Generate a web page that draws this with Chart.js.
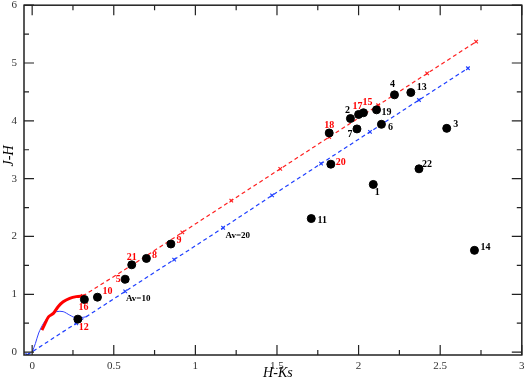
<!DOCTYPE html>
<html>
<head>
<meta charset="utf-8">
<script src="https://cdn.jsdelivr.net/npm/chart.js@4/dist/chart.umd.min.js"></script>
<style>
  html, body { margin: 0; padding: 0; background: #fff; }
  #wrap { width: 527px; height: 383px; position: relative; }
</style>
</head>
<body>
<div id="wrap"><canvas id="ccd"></canvas></div>
<script>
// axis ticks
const xTicks = [0, 0.5, 1, 1.5, 2, 2.5, 3];
const xMinor = [0.25, 0.75, 1.25, 1.75, 2.25, 2.75];
const yTicks = [0, 1, 2, 3, 4, 5, 6];
const yMinor = [0.5, 1.5, 2.5, 3.5, 4.5, 5.5];

// sources (H-Ks, J-H)
const starIds = ["1","2","3","4","5","6","7","8","9","10","11","12","13","14","15","16","17","18","19","20","21","22"];
const starHK  = [2.09, 1.95, 2.54, 2.22, 0.57, 2.14, 1.99, 0.70, 0.85, 0.40, 1.71, 0.28, 2.32, 2.71, 2.03, 0.32, 2.00, 1.82, 2.11, 1.83, 0.61, 2.37];
const starJH  = [2.90, 4.04, 3.87, 4.45, 1.26, 3.94, 3.86, 1.62, 1.87, 0.95, 2.31, 0.57, 4.49, 1.76, 4.14, 0.91, 4.11, 3.79, 4.19, 3.25, 1.51, 3.17];
const redIds  = ["5","8","9","10","12","15","16","17","18","20","21"];

// reddening vectors, marks every Av=5
const redVecHK  = [0.31, 0.62, 0.92, 1.22, 1.52, 1.82, 2.12, 2.42, 2.72];
const redVecJH  = [0.97, 1.52, 2.07, 2.62, 3.17, 3.72, 4.27, 4.82, 5.37];
const blueVecHK = [-0.03, 0.27, 0.57, 0.87, 1.17, 1.47, 1.77, 2.07, 2.37, 2.67];
const blueVecJH = [-0.05, 0.50, 1.05, 1.60, 2.15, 2.71, 3.26, 3.81, 4.36, 4.91];

// intrinsic loci
const giantHK = [0.06, 0.08, 0.10, 0.13, 0.16, 0.19, 0.23, 0.27, 0.31];
const giantJH = [0.38, 0.50, 0.61, 0.67, 0.79, 0.87, 0.93, 0.96, 0.97];
const dwarfHK = [0.00, 0.02, 0.04, 0.07, 0.11, 0.15, 0.19, 0.23, 0.27, 0.33];
const dwarfJH = [0.00, 0.15, 0.33, 0.50, 0.64, 0.70, 0.70, 0.64, 0.59, 0.61];

// Av annotations
const avText = ["Av=10", "Av=20"];
const avHK   = [0.65, 1.26];
const avJH   = [0.93, 2.02];

// label offsets (px) beside each source
const labelOff = {
  "1": [4, 8], "2": [-3, -8], "3": [9, -4], "4": [-2, -10], "5": [-7, 0],
  "6": [9, 3], "7": [-7, 5], "8": [8, -3], "9": [8, -4], "10": [10, -6],
  "11": [11, 2], "12": [6, 8], "13": [11, -5], "14": [11, -3], "15": [4, -10],
  "16": [-1, 8], "17": [-1, -8], "18": [0, -8], "19": [10, 3], "20": [10, -2],
  "21": [0, -7], "22": [8, -4]
};

const zip = (xs, ys) => xs.map((x, i) => ({ x, y: ys[i] }));
const serif = "'Liberation Serif', 'DejaVu Serif', serif";

const framePlugin = {
  id: "frame",
  afterDraw(chart) {
    const { ctx, chartArea: a, scales: { x, y } } = chart;
    ctx.save();
    ctx.strokeStyle = "#222";
    ctx.lineWidth = 1.5;
    ctx.strokeRect(a.left, a.top, a.right - a.left, a.bottom - a.top);
    ctx.lineWidth = 1.2;
    ctx.beginPath();
    const xt = (v, len) => {
      const p = x.getPixelForValue(v);
      ctx.moveTo(p, a.bottom); ctx.lineTo(p, a.bottom - len);
      ctx.moveTo(p, a.top); ctx.lineTo(p, a.top + len);
    };
    const yt = (v, len) => {
      const p = y.getPixelForValue(v);
      ctx.moveTo(a.left, p); ctx.lineTo(a.left + len, p);
      ctx.moveTo(a.right, p); ctx.lineTo(a.right - len, p);
    };
    xTicks.forEach(v => xt(v, 10));
    xMinor.forEach(v => xt(v, 5));
    yTicks.forEach(v => yt(v, 10));
    yMinor.forEach(v => yt(v, 5));
    ctx.stroke();

    // axis titles
    ctx.fillStyle = "#000";
    ctx.font = "italic 14px " + serif;
    ctx.textAlign = "center";
    ctx.textBaseline = "middle";
    ctx.fillText("H-Ks", (a.left + a.right) / 2 + 5, 373);
    ctx.translate(9, 156);
    ctx.rotate(-Math.PI / 2);
    ctx.fillText("J-H", 0, 0);
    ctx.restore();
  }
};

const labelPlugin = {
  id: "starLabels",
  afterDatasetsDraw(chart) {
    const { ctx, scales: { x, y } } = chart;
    ctx.save();
    ctx.textAlign = "center";
    ctx.textBaseline = "middle";
    ctx.font = "bold 10px " + serif;
    starIds.forEach((id, i) => {
      const o = labelOff[id] || [8, 0];
      ctx.fillStyle = redIds.includes(id) ? "#ff0000" : "#000";
      ctx.fillText(id, x.getPixelForValue(starHK[i]) + o[0], y.getPixelForValue(starJH[i]) + o[1]);
    });
    ctx.fillStyle = "#000";
    ctx.font = "bold 9px " + serif;
    avText.forEach((t, i) => ctx.fillText(t, x.getPixelForValue(avHK[i]), y.getPixelForValue(avJH[i])));
    ctx.restore();
  }
};

new Chart(document.getElementById("ccd"), {
  type: "scatter",
  data: {
    datasets: [
      { label: "sources", data: zip(starHK, starJH), order: 0,
        pointRadius: 4, pointBackgroundColor: "#000", pointBorderColor: "#000", showLine: false },
      { label: "giants", data: zip(giantHK, giantJH), order: 1, showLine: true,
        borderColor: "#ff0000", borderWidth: 3, pointRadius: 0, tension: 0.3 },
      { label: "dwarfs", data: zip(dwarfHK, dwarfJH), order: 2, showLine: true,
        borderColor: "#2f3fff", borderWidth: 1, pointRadius: 0, tension: 0.3 },
      { label: "red vector", data: zip(redVecHK, redVecJH), order: 3, showLine: true,
        borderColor: "#ff2020", borderWidth: 1.2, borderDash: [4, 3],
        pointStyle: "crossRot", pointRadius: 2.5, pointBorderColor: "#ff2020", pointBorderWidth: 1.2 },
      { label: "blue vector", data: zip(blueVecHK, blueVecJH), order: 4, showLine: true,
        borderColor: "#1f3fff", borderWidth: 1.2, borderDash: [4, 3],
        pointStyle: "crossRot", pointRadius: 2.5, pointBorderColor: "#1f3fff", pointBorderWidth: 1.2 }
    ]
  },
  options: {
    responsive: true,
    maintainAspectRatio: false,
    animation: false,
    layout: { padding: { top: 4, right: 2, left: 0, bottom: 0 } },
    plugins: { legend: { display: false }, tooltip: { enabled: false } },
    scales: {
      x: {
        type: "linear", min: -0.05, max: 3,
        grid: { display: false, drawTicks: false },
        border: { display: false },
        afterBuildTicks: (s) => { s.ticks = xTicks.map(v => ({ value: v })); },
        afterFit: (s) => { s.height = 28; s.paddingLeft = 0; s.paddingRight = 0; },
        ticks: { padding: 5, color: "#333", font: { family: serif, size: 11 }, maxRotation: 0,
                 callback: (v) => String(v) }
      },
      y: {
        type: "linear", min: -0.05, max: 6,
        grid: { display: false, drawTicks: false },
        border: { display: false },
        afterBuildTicks: (s) => { s.ticks = yTicks.map(v => ({ value: v })); },
        afterFit: (s) => { s.width = 24; s.paddingTop = 0; s.paddingBottom = 0; },
        ticks: { padding: 7, color: "#333", font: { family: serif, size: 11 },
                 callback: (v) => String(v) }
      }
    }
  },
  plugins: [framePlugin, labelPlugin]
});
</script>
</body>
</html>
